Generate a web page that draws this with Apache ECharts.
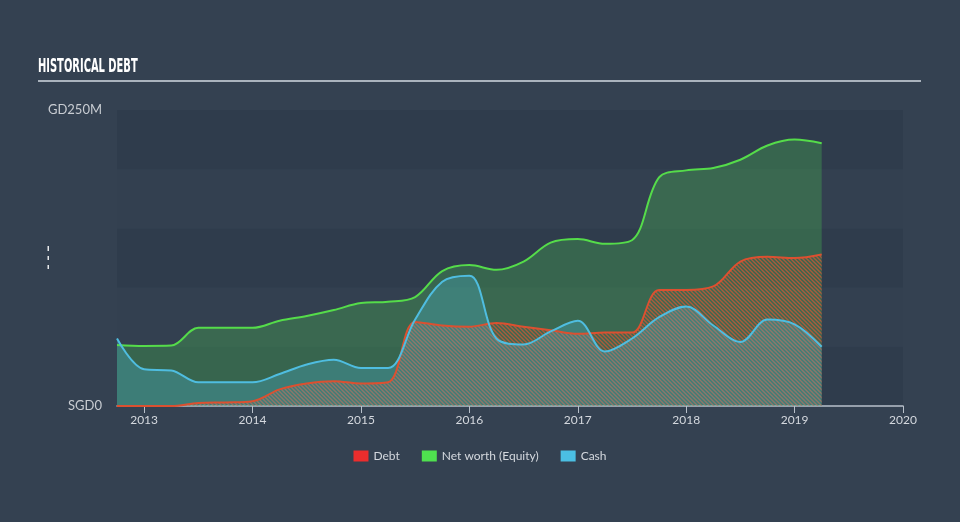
<!DOCTYPE html>
<html>
<head>
<meta charset="utf-8">
<script src="https://cdn.jsdelivr.net/npm/echarts@6/dist/echarts.min.js"></script>
<style>
html,body{margin:0;padding:0;background:#344151;}
#chart{width:960px;height:522px;}
</style>
</head>
<body>
<div id="chart"></div>
<script>
// decimal years (quarterly)
const dates = [2012.75,2013.0,2013.25,2013.5,2013.75,2014.0,2014.25,2014.5,2014.75,2015.0,2015.25,2015.5,2015.75,2016.0,2016.25,2016.5,2016.75,2017.0,2017.25,2017.5,2017.75,2018.0,2018.25,2018.5,2018.75,2019.0,2019.25];
// values in SGD millions
const debt   = [0,0,0,2.5,3,4,14,19,21,19,20,71,68,67,70,67,64,61,62,62,98,98,101,122,126,125,128];
const equity = [51.5,50.7,51,66,66,66,72,76,81,87,88,92,114,119,115,122,138,141,137,140,193,199,201,208,220,225,222];
const cash   = [57,31,30,20,20,20,27,35,39,32,32,73,105,110,57,52,63,72,46,57,75,84,68,54,73,69,50];
const xTicks = [2013,2014,2015,2016,2017,2018,2019,2020];
const seriesNames = ['Debt','Net worth (Equity)','Cash'];

function pairs(vals){ return dates.map((d,i)=>[d, vals[i]]); }

// hatch pattern for debt
const pc = document.createElement('canvas');
pc.width = 4; pc.height = 4;
const g = pc.getContext('2d');
g.strokeStyle = 'rgba(215,88,52,0.72)';
g.lineWidth = 1.4;
g.beginPath();
g.moveTo(-1,-1); g.lineTo(5,5);
g.moveTo(3,-1); g.lineTo(5,1);
g.moveTo(-1,3); g.lineTo(1,5);
g.stroke();

const SM = 0.35;
function areaSeries(name, vals, color, z){
  return {name, type: 'line', data: pairs(vals), smooth: SM, showSymbol: false, z,
    lineStyle: {width: 0}, itemStyle: {color: color.legend},
    areaStyle: {color: color.area, opacity: 1}};
}
function lineSeries(name, vals, color, z){
  return {name, type: 'line', data: pairs(vals), smooth: SM, showSymbol: false, z,
    itemStyle: {color: color.legend}, lineStyle: {color: color.line, width: 2}};
}
const cEq = {legend: '#4fe04f', line: '#55dc4a', area: 'rgba(76,200,84,0.3)'};
const cCash = {legend: '#4bbfe3', line: '#4fbde0', area: 'rgba(80,190,225,0.28)'};
const cDebt = {legend: '#ec2d2d', line: '#dc5030', area: {image: pc, repeat: 'repeat'}};

const chart = echarts.init(document.getElementById('chart'));
chart.setOption({
  backgroundColor: '#344151',
  animation: false,
  grid: {left: 117, right: 57, top: 110, bottom: 116},
  legend: {
    data: seriesNames, bottom: 55, left: 'center', icon: 'rect',
    itemWidth: 15, itemHeight: 11, itemGap: 22,
    textStyle: {color: '#d4d8de', fontSize: 12, fontFamily: 'Lato'}
  },
  xAxis: {
    type: 'value', min: 2012.75, max: 2020,
    axisLine: {show: true, lineStyle: {color: '#b8c0ca', width: 1.5}},
    axisTick: {show: true, customValues: xTicks, length: 7, lineStyle: {color: '#b8c0ca'}},
    axisLabel: {customValues: xTicks, color: '#d4d8de', fontSize: 12, fontFamily: 'Lato', margin: 8,
      formatter: v => String(v)},
    splitLine: {show: false}
  },
  yAxis: {
    type: 'value', min: 0, max: 250, interval: 50,
    axisLine: {show: false}, axisTick: {show: false},
    axisLabel: {
      color: '#c8ccd2', fontSize: 13, fontFamily: 'Lato', margin: 15,
      formatter: v => v === 0 ? 'SGD0' : (v === 250 ? 'GD250M' : '')
    },
    splitLine: {show: false},
    splitArea: {show: true, areaStyle: {color: ['#2f3c4c', '#334050']}}
  },
  graphic: [
    {type: 'text', left: 38, top: 58, scaleX: 0.58, style: {text: 'HISTORICAL DEBT', fill: '#ffffff', font: 'bold 19px "DejaVu Sans Condensed"'}},
    {type: 'rect', shape: {x: 38, y: 80, width: 883, height: 2}, style: {fill: '#aab3bd'}},
    {type: 'rect', shape: {x: 47.5, y: 246, width: 1.5, height: 5}, style: {fill: '#e6e8ea'}},
    {type: 'rect', shape: {x: 47.5, y: 256, width: 1.5, height: 4}, style: {fill: '#e6e8ea'}},
    {type: 'rect', shape: {x: 47.5, y: 265, width: 1.5, height: 4}, style: {fill: '#e6e8ea'}}
  ],
  series: [
    areaSeries('Debt', debt, cDebt, 2),
    areaSeries('Net worth (Equity)', equity, cEq, 1),
    areaSeries('Cash', cash, cCash, 3),
    lineSeries('Net worth (Equity)', equity, cEq, 5),
    lineSeries('Debt', debt, cDebt, 6),
    lineSeries('Cash', cash, cCash, 7)
  ]
});
</script>
</body>
</html>
